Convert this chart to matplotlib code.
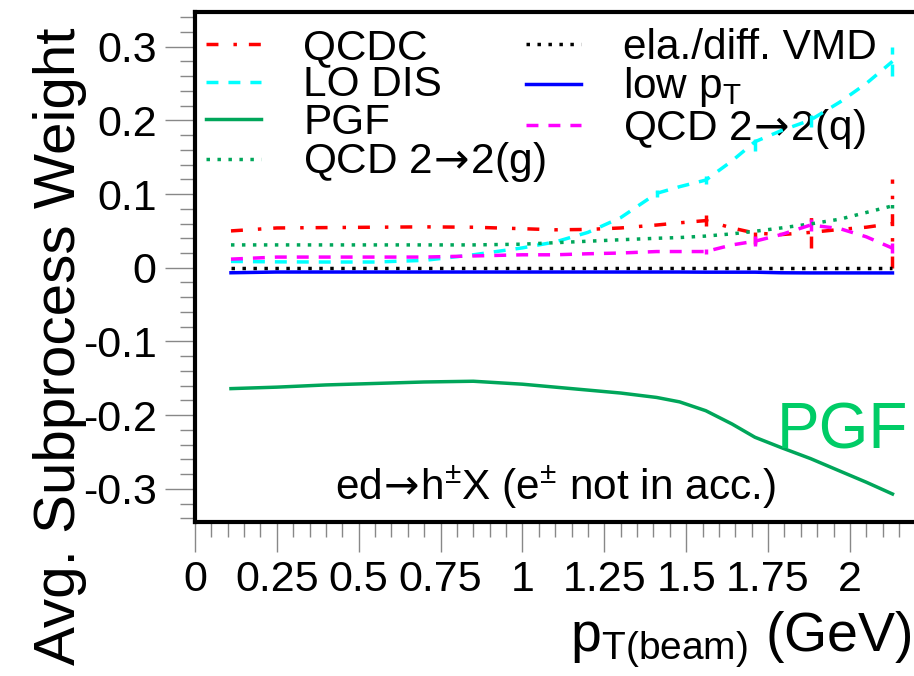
import matplotlib
matplotlib.use("Agg")
import matplotlib.pyplot as plt
from matplotlib.ticker import MultipleLocator, FuncFormatter
from matplotlib.lines import Line2D

plt.rcParams['font.family'] = ['Liberation Sans', 'DejaVu Sans']
plt.rcParams['mathtext.fontset'] = 'custom'
plt.rcParams['mathtext.rm'] = 'Liberation Sans'
plt.rcParams['mathtext.sf'] = 'DejaVu Sans'
plt.rcParams['mathtext.default'] = 'regular'
plt.rcParams['axes.unicode_minus'] = False
plt.rcParams['lines.scale_dashes'] = False

# pT bin centres (GeV)
pt = [0.11, 0.25, 0.4, 0.55, 0.7, 0.85, 1.0, 1.1, 1.2, 1.3,
      1.41, 1.48, 1.56, 1.64, 1.71, 1.79, 1.88, 1.97, 2.05, 2.13]

# average subprocess weights
qcdc = [0.050, 0.054, 0.0545, 0.055, 0.0555, 0.055, 0.053, 0.0515, 0.052, 0.054,
        0.058, 0.061, 0.064, 0.054, 0.047, 0.045, 0.048, 0.052, 0.055, 0.060]
lodis = [0.0086, 0.008, 0.0078, 0.0078, 0.010, 0.0176, 0.027, 0.035, 0.048, 0.068,
         0.101, 0.110, 0.119, 0.145, 0.171, 0.186, 0.2005, 0.225, 0.250, 0.280]
pgf = [-0.164, -0.162, -0.159, -0.157, -0.155, -0.154, -0.158, -0.162, -0.166, -0.170,
       -0.176, -0.182, -0.194, -0.212, -0.230, -0.244, -0.259, -0.276, -0.291, -0.307]
qcd_g = [0.031, 0.031, 0.031, 0.031, 0.031, 0.031, 0.032, 0.034, 0.036, 0.038,
         0.040, 0.041, 0.043, 0.046, 0.0495, 0.054, 0.0595, 0.066, 0.075, 0.084]
vmd = [0.0] * 20
lowpt = [-0.0068, -0.0058, -0.0058, -0.0058, -0.0058, -0.0058, -0.0058, -0.0058, -0.0058, -0.0058,
         -0.0058, -0.0058, -0.006, -0.006, -0.006, -0.0068, -0.007, -0.007, -0.007, -0.007]
qcd_q = [0.0117, 0.0145, 0.0145, 0.0145, 0.0145, 0.016, 0.0176, 0.0176, 0.019, 0.020,
         0.022, 0.022, 0.022, 0.031, 0.036, 0.045, 0.058, 0.053, 0.042, 0.0266]

# statistical errors (only the last bins are visible)
err_qcdc = [0] * 12 + [0.007, 0, 0.015, 0, 0.021, 0, 0, 0.060]
err_lodis = [0] * 10 + [0.005, 0, 0.006, 0, 0.012, 0, 0.010, 0, 0, 0.020]
err_qcd_q = [0] * 12 + [0.004, 0, 0.007, 0, 0.008, 0, 0, 0.007]
err_qcd_g = [0] * 19 + [0.003]

arrow = r'$\mathsf{\!\rightarrow\!}$'
labels = ['QCDC', 'LO DIS', 'PGF', 'QCD 2' + arrow + '2(g)',
          'ela./diff. VMD', r'low p$_{T}$', 'QCD 2' + arrow + '2(q)']

green = '#00a65a'
dash_dot = (0, (8.6, 10.8, 2.5, 8.6))
dashed = (0, (8.6, 7.2))
dotted = (0, (2.5, 5.4))

series = [
    (qcdc, err_qcdc, 'red', dash_dot),
    (lodis, err_lodis, 'cyan', dashed),
    (pgf, None, green, '-'),
    (qcd_g, err_qcd_g, green, dotted),
    (vmd, None, 'black', dotted),
    (lowpt, None, 'blue', '-'),
    (qcd_q, err_qcd_q, 'magenta', dashed),
]

fig = plt.figure(figsize=(9.14, 6.76), dpi=100)
ax = fig.add_axes([0.2133, 0.2278, 0.804, 0.7544])

handles = []
for vals, err, col, ls in series:
    if err is None:
        ax.plot(pt, vals, color=col, ls=ls, lw=2.5)
    else:
        cont = ax.errorbar(pt, vals, yerr=err, color=col, ls=ls, lw=2.5,
                           elinewidth=2.5, capsize=0)
        cont[2][0].set_linestyle(ls)
    handles.append(Line2D([], [], color=col, ls=ls, lw=2.5))

ax.set_xlim(0, 2.244)
ax.set_ylim(-0.345, 0.347)

for side in ['left', 'bottom', 'top']:
    ax.spines[side].set_linewidth(3)
ax.spines['right'].set_visible(False)

fmt = FuncFormatter(lambda v, p: '%g' % round(v, 3))
ax.xaxis.set_major_locator(MultipleLocator(0.25))
ax.xaxis.set_minor_locator(MultipleLocator(0.05))
ax.yaxis.set_major_locator(MultipleLocator(0.1))
ax.yaxis.set_minor_locator(MultipleLocator(0.02))
ax.xaxis.set_major_formatter(fmt)
ax.yaxis.set_major_formatter(fmt)
ax.tick_params(which='both', direction='out', color='#888888', width=1,
               top=False, right=False, labelsize=31)
ax.tick_params(which='major', length=21.6, pad=6)
ax.tick_params(which='minor', length=10.8)

fig.text(60 / 914, 1 - 346 / 676, 'Avg. Subprocess Weight', rotation=90,
         ha='center', va='center', fontsize=42)
fig.text(912 / 914, 1 - 640 / 676, r'p$_{T(beam)}$ (GeV)', ha='right',
         va='center', fontsize=40)

ax.text(1.10, -0.298, 'ed' + arrow + r'h$^{\pm}$X (e$^{\pm}$ not in acc.)',
        ha='center', va='center', fontsize=30.5)
ax.text(1.976, -0.222, 'PGF', color='#00cc66', ha='center', va='center',
        fontsize=46)

leg_kw = dict(frameon=False, fontsize=30.5, handlelength=1.3, handletextpad=1.0,
              labelspacing=-0.06, borderpad=0, borderaxespad=0,
              loc='upper left', bbox_transform=fig.transFigure)
leg1 = ax.legend(handles[:4], labels[:4], bbox_to_anchor=(206 / 914, 1 - 28 / 676),
                 **leg_kw)
ax.add_artist(leg1)
leg2 = ax.legend(handles[4:], labels[4:], bbox_to_anchor=(526 / 914, 1 - 28 / 676),
                 **leg_kw)
leg1.set_zorder(1)
leg2.set_zorder(1)

fig.savefig('out.png', dpi=100)
